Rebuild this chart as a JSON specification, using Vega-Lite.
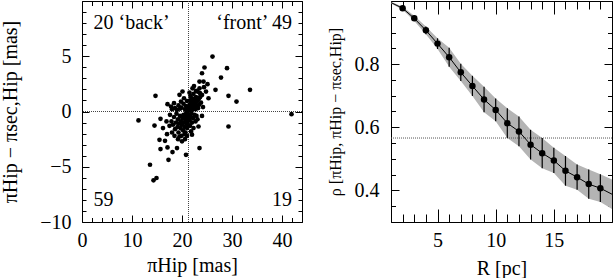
{
  "$schema": "https://vega.github.io/schema/vega-lite/v6.json",
  "padding": {"left": 0, "top": -10, "right": 0, "bottom": 0},
  "spacing": 23,
  "config": {
    "view": {"stroke": "black", "strokeWidth": 1},
    "font": "Liberation Serif",
    "axis": {
      "domain": false, "grid": false,
      "labelFont": "Liberation Serif", "labelFontSize": 20, "labelColor": "black",
      "labelFlush": false, "labelOverlap": false, "labelBound": false,
      "titleFont": "Liberation Serif", "titleFontSize": 20, "titleFontWeight": "normal", "titleColor": "black",
      "tickColor": "black", "tickWidth": 1
    }
  },
  "datasets": {
    "scatter": [
      {"px": 14.7, "dy": 1.42}, {"px": 17.1, "dy": 0.66}, {"px": 17.8, "dy": 0.45}, {"px": 18.0, "dy": 0.21}, {"px": 19.5, "dy": 1.51}, {"px": 20.1, "dy": 1.81}, {"px": 19.8, "dy": 0.9},
      {"px": 18.6, "dy": 0.3}, {"px": 19.0, "dy": 0.15}, {"px": 19.3, "dy": 0.55}, {"px": 19.9, "dy": 0.35}, {"px": 20.3, "dy": 0.7}, {"px": 20.6, "dy": 0.2}, {"px": 20.8, "dy": 0.5}, {"px": 21.0, "dy": 0.95}, {"px": 20.9, "dy": 0.1}, {"px": 20.4, "dy": 1.2}, {"px": 19.6, "dy": 0.25}, {"px": 21.1, "dy": 0.35}, {"px": 18.4, "dy": 0.75},
      {"px": 11.3, "dy": -0.81}, {"px": 14.5, "dy": -1.27}, {"px": 13.6, "dy": -4.82}, {"px": 14.3, "dy": -6.23}, {"px": 14.9, "dy": -6.02}, {"px": 15.7, "dy": -0.66}, {"px": 15.5, "dy": -2.56}, {"px": 15.7, "dy": -3.4}, {"px": 16.6, "dy": -2.65}, {"px": 17.0, "dy": -2.05}, {"px": 17.1, "dy": -3.25}, {"px": 17.3, "dy": -4.37}, {"px": 18.1, "dy": -3.67}, {"px": 19.0, "dy": -3.31}, {"px": 19.5, "dy": -2.26}, {"px": 20.8, "dy": -3.92}, {"px": 20.5, "dy": -2.05},
      {"px": 17.6, "dy": -0.3}, {"px": 17.9, "dy": -0.9}, {"px": 18.2, "dy": -1.2}, {"px": 18.4, "dy": -0.5}, {"px": 18.6, "dy": -1.6}, {"px": 18.8, "dy": -1.0}, {"px": 18.9, "dy": -0.2}, {"px": 19.1, "dy": -1.4}, {"px": 19.2, "dy": -0.7}, {"px": 19.3, "dy": -1.9}, {"px": 19.4, "dy": -1.1}, {"px": 19.6, "dy": -0.4}, {"px": 19.7, "dy": -1.5}, {"px": 19.8, "dy": -0.9}, {"px": 19.9, "dy": -2.2}, {"px": 20.0, "dy": -1.2}, {"px": 20.1, "dy": -0.6}, {"px": 20.2, "dy": -1.7}, {"px": 20.3, "dy": -0.3}, {"px": 20.4, "dy": -1.0}, {"px": 20.5, "dy": -1.4}, {"px": 20.6, "dy": -0.5}, {"px": 20.7, "dy": -0.8}, {"px": 20.7, "dy": -1.9}, {"px": 20.8, "dy": -0.2}, {"px": 20.9, "dy": -1.1}, {"px": 20.9, "dy": -0.6}, {"px": 21.0, "dy": -1.5}, {"px": 21.0, "dy": -0.3}, {"px": 21.1, "dy": -0.9}, {"px": 21.1, "dy": -0.1}, {"px": 21.2, "dy": -0.5}, {"px": 21.2, "dy": -1.2}, {"px": 20.6, "dy": -2.5}, {"px": 20.0, "dy": -2.7}, {"px": 19.2, "dy": -2.5}, {"px": 18.5, "dy": -2.2}, {"px": 18.0, "dy": -1.9}, {"px": 17.5, "dy": -1.3}, {"px": 16.9, "dy": -0.9}, {"px": 16.2, "dy": -1.5}, {"px": 21.0, "dy": -2.2},
      {"px": 26.1, "dy": 4.97}, {"px": 24.5, "dy": 3.98}, {"px": 24.0, "dy": 3.46}, {"px": 23.5, "dy": 2.71}, {"px": 24.3, "dy": 2.71}, {"px": 25.1, "dy": 2.47}, {"px": 25.3, "dy": 1.2}, {"px": 26.7, "dy": 1.96}, {"px": 27.8, "dy": 3.07}, {"px": 29.0, "dy": 3.92}, {"px": 29.3, "dy": 1.42}, {"px": 30.9, "dy": 0.9}, {"px": 33.6, "dy": 1.96}, {"px": 23.5, "dy": 2.1}, {"px": 24.8, "dy": 1.8}, {"px": 22.8, "dy": 1.87}, {"px": 23.6, "dy": 1.66}, {"px": 22.1, "dy": 2.1},
      {"px": 21.4, "dy": 0.2}, {"px": 21.5, "dy": 0.6}, {"px": 21.6, "dy": 1.0}, {"px": 21.6, "dy": 0.3}, {"px": 21.7, "dy": 1.4}, {"px": 21.8, "dy": 0.1}, {"px": 21.8, "dy": 0.8}, {"px": 21.9, "dy": 0.4}, {"px": 22.0, "dy": 1.2}, {"px": 22.0, "dy": 0.6}, {"px": 22.1, "dy": 0.2}, {"px": 22.2, "dy": 0.9}, {"px": 22.3, "dy": 1.6}, {"px": 22.4, "dy": 0.4}, {"px": 22.5, "dy": 1.1}, {"px": 22.6, "dy": 0.7}, {"px": 22.7, "dy": 0.2}, {"px": 22.8, "dy": 1.3}, {"px": 22.9, "dy": 0.5}, {"px": 23.0, "dy": 0.9}, {"px": 23.1, "dy": 1.8}, {"px": 23.2, "dy": 0.3}, {"px": 23.3, "dy": 1.1}, {"px": 23.4, "dy": 0.6}, {"px": 23.6, "dy": 1.3}, {"px": 23.8, "dy": 0.8}, {"px": 24.0, "dy": 1.5}, {"px": 24.2, "dy": 0.4}, {"px": 24.4, "dy": 2.2}, {"px": 22.4, "dy": 2.3}, {"px": 21.5, "dy": 1.7},
      {"px": 23.5, "dy": -3.31}, {"px": 23.3, "dy": -1.36}, {"px": 29.3, "dy": -1.36}, {"px": 41.9, "dy": -0.24},
      {"px": 21.4, "dy": -0.3}, {"px": 21.5, "dy": -0.8}, {"px": 21.6, "dy": -1.3}, {"px": 21.7, "dy": -0.5}, {"px": 21.8, "dy": -1.8}, {"px": 21.9, "dy": -0.2}, {"px": 22.0, "dy": -1.0}, {"px": 22.2, "dy": -0.6}, {"px": 22.3, "dy": -1.5}, {"px": 22.5, "dy": -0.3}, {"px": 22.7, "dy": -0.9}, {"px": 22.9, "dy": -0.4}, {"px": 23.1, "dy": -0.7}, {"px": 24.0, "dy": -0.4}, {"px": 22.0, "dy": -2.1}
    ],
    "ann": [
      {"x": 2.3, "y": 8.0, "t": "20 ‘back’", "side": "l"},
      {"x": 42, "y": 8.0, "t": "‘front’ 49", "side": "r"},
      {"x": 2.3, "y": -8.0, "t": "59", "side": "l"},
      {"x": 42, "y": -8.0, "t": "19", "side": "r"}
    ],
    "curve": [
      {"R": 1, "rho": 0.995, "lo": 0.992, "hi": 0.998, "pt": false},
      {"R": 2, "rho": 0.977, "lo": 0.972, "hi": 0.982, "pt": true},
      {"R": 3, "rho": 0.945, "lo": 0.937, "hi": 0.953, "pt": true},
      {"R": 4, "rho": 0.907, "lo": 0.895, "hi": 0.919, "pt": true},
      {"R": 5, "rho": 0.865, "lo": 0.848, "hi": 0.882, "pt": true},
      {"R": 6, "rho": 0.822, "lo": 0.792, "hi": 0.852, "pt": true},
      {"R": 7, "rho": 0.774, "lo": 0.747, "hi": 0.801, "pt": true},
      {"R": 8, "rho": 0.731, "lo": 0.699, "hi": 0.763, "pt": true},
      {"R": 9, "rho": 0.688, "lo": 0.648, "hi": 0.728, "pt": true},
      {"R": 10, "rho": 0.655, "lo": 0.619, "hi": 0.691, "pt": true},
      {"R": 11, "rho": 0.613, "lo": 0.566, "hi": 0.66, "pt": true},
      {"R": 12, "rho": 0.587, "lo": 0.54, "hi": 0.634, "pt": true},
      {"R": 13, "rho": 0.545, "lo": 0.498, "hi": 0.592, "pt": true},
      {"R": 14, "rho": 0.518, "lo": 0.47, "hi": 0.566, "pt": true},
      {"R": 15, "rho": 0.495, "lo": 0.455, "hi": 0.535, "pt": true},
      {"R": 16, "rho": 0.462, "lo": 0.415, "hi": 0.509, "pt": true},
      {"R": 17, "rho": 0.442, "lo": 0.402, "hi": 0.482, "pt": true},
      {"R": 18, "rho": 0.42, "lo": 0.374, "hi": 0.466, "pt": true},
      {"R": 19, "rho": 0.407, "lo": 0.363, "hi": 0.451, "pt": true},
      {"R": 20, "rho": 0.388, "lo": 0.341, "hi": 0.435, "pt": false}
    ]
  },
  "hconcat": [
    {
      "width": 220,
      "height": 221,
      "resolve": {"axis": {"x": "independent", "y": "independent"}},
      "layer": [
        {
          "data": {"values": [{"v": 21.3}]},
          "mark": {"type": "rule", "color": "#444444", "strokeWidth": 1, "strokeDash": [1, 1]},
          "encoding": {"x": {"field": "v", "type": "quantitative", "scale": {"domain": [0, 44], "nice": false, "zero": false}, "axis": null}}
        },
        {
          "data": {"values": [{"v": 0}]},
          "mark": {"type": "rule", "color": "#444444", "strokeWidth": 1, "strokeDash": [1, 1]},
          "encoding": {"y": {"field": "v", "type": "quantitative", "scale": {"domain": [-10, 10], "nice": false, "zero": false}, "axis": null}}
        },
        {
          "data": {"name": "scatter"},
          "mark": {"type": "circle", "color": "black", "opacity": 1, "size": 22},
          "encoding": {
            "x": {"field": "px", "type": "quantitative", "scale": {"domain": [0, 44], "nice": false, "zero": false},
              "axis": {"orient": "bottom", "values": [0,2,4,6,8,10,12,14,16,18,20,22,24,26,28,30,32,34,36,38,40,42,44], "format": "d",
                "labelExpr": "datum.value % 10 === 0 ? datum.label : ''",
                "tickSize": {"condition": {"test": "datum.value % 10 === 0", "value": -7}, "value": -4.5},
                "labelPadding": 15, "title": "πHip [mas]", "titlePadding": 3}},
            "y": {"field": "dy", "type": "quantitative", "scale": {"domain": [-10, 10], "nice": false, "zero": false},
              "axis": {"orient": "left", "values": [-10,-9,-8,-7,-6,-5,-4,-3,-2,-1,0,1,2,3,4,5,6,7,8,9,10], "format": "d",
                "labelExpr": "datum.value % 5 === 0 && datum.value < 10 ? datum.label : ''",
                "tickSize": {"condition": {"test": "datum.value % 5 === 0", "value": -7}, "value": -4},
                "labelPadding": 18, "title": "πHip − πsec,Hip [mas]", "titlePadding": 19}}
          }
        },
        {
          "data": {"name": "ann"},
          "transform": [{"filter": "datum.side === 'l'"}],
          "mark": {"type": "text", "align": "left", "baseline": "middle", "font": "Liberation Serif", "fontSize": 20, "color": "black"},
          "encoding": {
            "x": {"field": "x", "type": "quantitative", "scale": {"domain": [0, 44], "nice": false, "zero": false},
              "axis": {"orient": "top", "values": [0,2,4,6,8,10,12,14,16,18,20,22,24,26,28,30,32,34,36,38,40,42,44], "labels": false, "title": null,
                "tickSize": {"condition": {"test": "datum.value % 10 === 0", "value": -7}, "value": -4.5}}},
            "y": {"field": "y", "type": "quantitative", "scale": {"domain": [-10, 10], "nice": false, "zero": false},
              "axis": {"orient": "right", "values": [-10,-9,-8,-7,-6,-5,-4,-3,-2,-1,0,1,2,3,4,5,6,7,8,9,10], "labels": false, "title": null,
                "tickSize": {"condition": {"test": "datum.value % 5 === 0", "value": -7}, "value": -4}}},
            "text": {"field": "t", "type": "nominal"}
          }
        },
        {
          "data": {"name": "ann"},
          "transform": [{"filter": "datum.side === 'r'"}],
          "mark": {"type": "text", "align": "right", "baseline": "middle", "font": "Liberation Serif", "fontSize": 20, "color": "black"},
          "encoding": {
            "x": {"field": "x", "type": "quantitative", "scale": {"domain": [0, 44], "nice": false, "zero": false}, "axis": null},
            "y": {"field": "y", "type": "quantitative", "scale": {"domain": [-10, 10], "nice": false, "zero": false}, "axis": null},
            "text": {"field": "t", "type": "nominal"}
          }
        }
      ]
    },
    {
      "width": 221,
      "height": 221,
      "data": {"name": "curve"},
      "resolve": {"axis": {"x": "independent", "y": "independent"}},
      "layer": [
        {
          "mark": {"type": "area", "color": "#b4b4b4", "opacity": 1},
          "encoding": {
            "x": {"field": "R", "type": "quantitative", "scale": {"domain": [1, 20], "nice": false, "zero": false},
              "axis": {"orient": "bottom", "values": [1,2,3,4,5,6,7,8,9,10,11,12,13,14,15,16,17,18,19,20], "format": "d",
                "labelExpr": "datum.value % 5 === 0 && datum.value < 20 ? datum.label : ''",
                "tickSize": {"condition": {"test": "datum.value % 5 === 0", "value": -13}, "value": -8},
                "labelPadding": 21, "title": "R [pc]", "titlePadding": 3}},
            "y": {"field": "lo", "type": "quantitative", "scale": {"domain": [0.3, 1.0], "nice": false, "zero": false},
              "axis": {"orient": "left", "values": [0.3,0.35,0.4,0.45,0.5,0.55,0.6,0.65,0.7,0.75,0.8,0.85,0.9,0.95,1.0], "format": ".1f",
                "labelExpr": "datum.value > 0.35 && datum.value < 0.95 && abs(datum.value*5 - round(datum.value*5)) < 0.001 ? datum.label : ''",
                "tickSize": {"condition": {"test": "abs(datum.value*5 - round(datum.value*5)) < 0.001", "value": -8}, "value": -4.5},
                "labelPadding": 20, "title": "ρ [πHip, πHip − πsec,Hip]", "titleFontSize": 16, "titlePadding": 11}},
            "y2": {"field": "hi"}
          }
        },
        {
          "data": {"values": [{"v": 0.566}]},
          "mark": {"type": "rule", "color": "#555555", "strokeWidth": 1, "strokeDash": [1, 1]},
          "encoding": {"y": {"field": "v", "type": "quantitative", "scale": {"domain": [0.3, 1.0], "nice": false, "zero": false}, "axis": null}}
        },
        {
          "mark": {"type": "line", "color": "black", "strokeWidth": 1},
          "encoding": {
            "x": {"field": "R", "type": "quantitative", "scale": {"domain": [1, 20], "nice": false, "zero": false},
              "axis": {"orient": "top", "values": [1,2,3,4,5,6,7,8,9,10,11,12,13,14,15,16,17,18,19,20], "labels": false, "title": null,
                "tickSize": {"condition": {"test": "datum.value % 5 === 0", "value": -13}, "value": -8}}},
            "y": {"field": "rho", "type": "quantitative", "scale": {"domain": [0.3, 1.0], "nice": false, "zero": false},
              "axis": {"orient": "right", "values": [0.3,0.35,0.4,0.45,0.5,0.55,0.6,0.65,0.7,0.75,0.8,0.85,0.9,0.95,1.0], "labels": false, "title": null,
                "tickSize": {"condition": {"test": "abs(datum.value*5 - round(datum.value*5)) < 0.001", "value": -8}, "value": -4.5}}}
          }
        },
        {
          "transform": [{"filter": "datum.pt"}],
          "mark": {"type": "rule", "color": "black", "strokeWidth": 1.2},
          "encoding": {
            "x": {"field": "R", "type": "quantitative", "scale": {"domain": [1, 20], "nice": false, "zero": false}, "axis": null},
            "y": {"field": "lo", "type": "quantitative", "scale": {"domain": [0.3, 1.0], "nice": false, "zero": false}, "axis": null},
            "y2": {"field": "hi"}
          }
        },
        {
          "transform": [{"filter": "datum.pt"}],
          "mark": {"type": "circle", "color": "black", "opacity": 1, "size": 42},
          "encoding": {
            "x": {"field": "R", "type": "quantitative", "scale": {"domain": [1, 20], "nice": false, "zero": false}, "axis": null},
            "y": {"field": "rho", "type": "quantitative", "scale": {"domain": [0.3, 1.0], "nice": false, "zero": false}, "axis": null}
          }
        }
      ]
    }
  ]
}
